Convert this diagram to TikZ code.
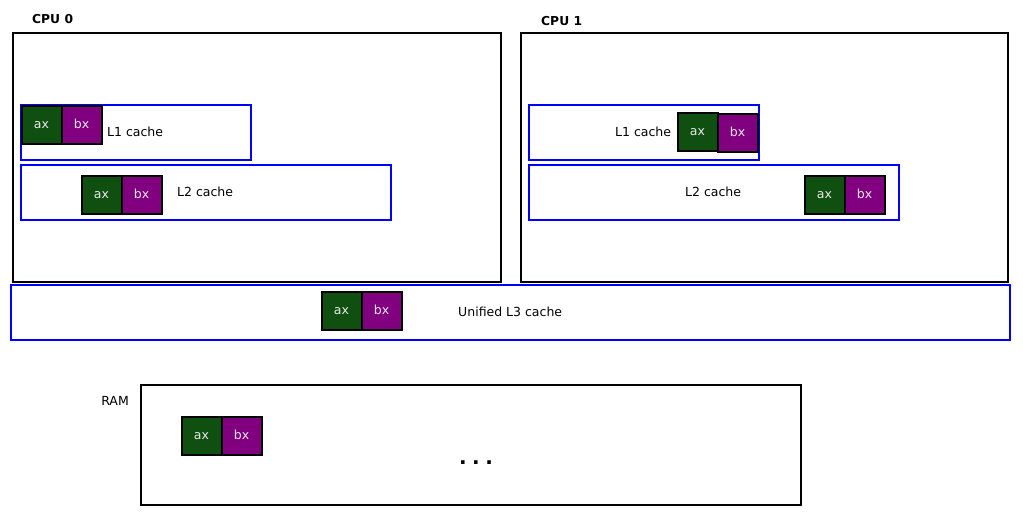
\documentclass[tikz,border=0pt]{standalone}
\usepackage{fontspec}
\setmainfont{DejaVu Sans}
\definecolor{regg}{HTML}{0F5010}
\definecolor{regp}{HTML}{800080}
\definecolor{regtxt}{HTML}{E8E8E8}
\begin{document}
\begin{tikzpicture}[x=1pt,y=-1pt,
  box/.style={draw=black,line width=1.8pt,inner sep=0pt,minimum width=#1},
  cache/.style={draw=blue,line width=1.6pt,inner sep=0pt,minimum height=55pt,minimum width=#1},
  reg/.style={draw=black,line width=2pt,inner sep=0pt,outer sep=0pt,minimum width=40pt,minimum height=38pt,
    text=regtxt,text height=8pt,text depth=0pt,font=\fontsize{12.5}{14}\selectfont},
  rax/.style={reg,fill=regg},
  rbx/.style={reg,fill=regp},
  lbl/.style={inner sep=0pt,font=\fontsize{12.5}{14}\selectfont},
  title/.style={inner sep=0pt,font=\fontsize{12.3}{14}\selectfont\bfseries}]
\useasboundingbox (0,0) rectangle (1023,515);
% CPU boxes
\node[box=488pt,minimum height=249pt] (cpu0) at (257,157.5) {};
\node[box=487pt,minimum height=249pt] (cpu1) at (764.5,157.5) {};
\node[title,anchor=west] (cpu0t) at (32,19) {CPU 0};
\node[title,anchor=west] (cpu1t) at (541,21) {CPU 1};
% CPU0 caches
\node[cache=230pt] (l1a) at (136,132.5) {};
\node[cache=370pt] (l2a) at (206,192.5) {};
\node[rax,anchor=north west] (ax1a) at (21.5,105.5) {ax};
\node[rbx,anchor=west] (bx1a) at (ax1a.east) {bx};
\node[lbl,anchor=west] (l1at) at (107,132) {L1 cache};
\node[rax,anchor=north west] (ax2a) at (81.5,175.5) {ax};
\node[rbx,anchor=west] (bx2a) at (ax2a.east) {bx};
\node[lbl,anchor=west] (l2at) at (177,192) {L2 cache};
% CPU1 caches
\node[cache=230pt] (l1b) at (644,132.5) {};
\node[cache=370pt] (l2b) at (714,192.5) {};
\node[rax,anchor=north west] (ax1b) at (677.5,112.5) {ax};
\node[rbx,anchor=west,yshift=-1pt] (bx1b) at (ax1b.east) {bx};
\node[lbl,anchor=west] (l1bt) at (615,132) {L1 cache};
\node[rax,anchor=north west] (ax2b) at (804.5,175.5) {ax};
\node[rbx,anchor=west] (bx2b) at (ax2b.east) {bx};
\node[lbl,anchor=west] (l2bt) at (685,192) {L2 cache};
% L3
\node[cache=999pt] (l3) at (510.5,312.5) {};
\node[rax,anchor=north west] (ax3) at (321.5,291.5) {ax};
\node[rbx,anchor=west] (bx3) at (ax3.east) {bx};
\node[lbl,anchor=west] (l3t) at (458,312) {Unified L3 cache};
% RAM
\node[box=660pt,minimum height=120pt] (ram) at (471,445) {};
\node[lbl,anchor=east] (ramt) at (129,401) {RAM};
\node[rax,anchor=north west] (axr) at (181.5,416.5) {ax};
\node[rbx,anchor=west] (bxr) at (axr.east) {bx};
\node[inner sep=0pt,anchor=base,font=\fontsize{20}{22}\selectfont\bfseries] (dots) at (476,464.5) {.\hspace{5.5pt}.\hspace{5.5pt}.};
\end{tikzpicture}
\end{document}
